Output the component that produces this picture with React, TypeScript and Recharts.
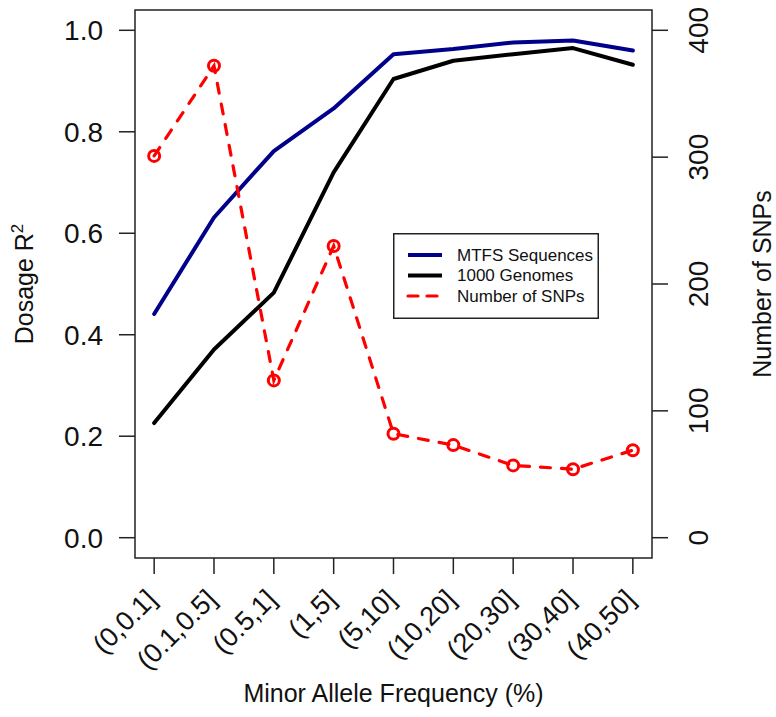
import React from 'react';
import { ComposedChart, Line, XAxis, YAxis, ReferenceArea, Legend } from 'recharts';

const categories = ['(0,0.1]', '(0.1,0.5]', '(0.5,1]', '(1,5]', '(5,10]', '(10,20]', '(20,30]', '(30,40]', '(40,50]'];
const mtfsR2 = [0.441, 0.631, 0.762, 0.846, 0.953, 0.963, 0.976, 0.98, 0.96];
const genomesR2 = [0.226, 0.371, 0.483, 0.72, 0.904, 0.94, 0.953, 0.965, 0.932];
const snpCounts = [301, 372, 124, 230, 82, 73, 57, 54, 69];
const r2Ticks = [0, 0.2, 0.4, 0.6, 0.8, 1.0];
const snpTicks = [0, 100, 200, 300, 400];
const xTicks = categories.map((_, i) => i + 1);

const seriesInfo = [
  { key: 'mtfs', name: 'MTFS Sequences', color: '#00008B', dashed: false },
  { key: 'genomes', name: '1000 Genomes', color: '#000000', dashed: false },
  { key: 'snps', name: 'Number of SNPs', color: '#FF0000', dashed: true },
];

const data = categories.map((c, i) => ({
  idx: i + 1,
  cat: c,
  mtfs: mtfsR2[i],
  genomes: genomesR2[i],
  snps: snpCounts[i],
}));

const FONT = '"Liberation Sans", Arial, Helvetica, sans-serif';
const INK = '#111';
const AXIS = '#222';

const XTick = (props: any) => {
  const { x, y, payload } = props;
  const ex = x + 4;
  const ey = y + 27;
  return (
    <text x={ex} y={ey} textAnchor="end" transform={`rotate(-45 ${ex} ${ey})`} fontSize={27} fontFamily={FONT} fill={INK}>
      {categories[payload.value - 1]}
    </text>
  );
};

const RTick = (props: any) => {
  const { x, y, payload } = props;
  return (
    <text x={x} y={y} textAnchor="middle" transform={`rotate(-90 ${x} ${y})`} fontSize={28} fontFamily={FONT} fill={INK}>
      {payload.value}
    </text>
  );
};

const LeftTitle = () => (
  <text transform="translate(33 284) rotate(-90)" textAnchor="middle" fontSize={25} fontFamily={FONT} fill={INK}>
    Dosage R<tspan dy={-10} fontSize={17}>2</tspan>
  </text>
);

const RightTitle = () => (
  <text transform="translate(771 284) rotate(-90)" textAnchor="middle" fontSize={25} fontFamily={FONT} fill={INK}>
    Number of SNPs
  </text>
);

const BottomTitle = () => (
  <text x={393.5} y={702} textAnchor="middle" fontSize={25} fontFamily={FONT} fill={INK}>
    Minor Allele Frequency (%)
  </text>
);

const LegendBox = () => (
  <svg width={206} height={86} style={{ display: 'block' }}>
    <rect x={0.75} y={0.75} width={204.5} height={84.5} fill="#fff" stroke={AXIS} strokeWidth={1.5} />
    {seriesInfo.map((s, i) => {
      const cy = 22 + i * 20.5;
      return (
        <g key={s.key}>
          <line
            x1={15}
            x2={49}
            y1={cy}
            y2={cy}
            stroke={s.color}
            strokeWidth={s.dashed ? 3.2 : 4}
            strokeDasharray={s.dashed ? '10 9' : undefined}
            strokeLinecap={s.dashed ? 'round' : 'butt'}
          />
          <text x={64} y={cy} dominantBaseline="central" fontSize={17} fontFamily={FONT} fill={INK}>
            {s.name}
          </text>
        </g>
      );
    })}
  </svg>
);

const renderDot = (props: any) => {
  const { cx, cy, index } = props;
  if (cx == null || cy == null) return <g key={`d-${index}`} />;
  return <circle key={`d-${index}`} cx={cx} cy={cy} r={5.5} fill="none" stroke="#FF0000" strokeWidth={3} />;
};

export default function App() {
  return (
    <div style={{ position: 'absolute', left: 0, top: 0, width: 776, height: 717, background: '#fff' }}>
      <ComposedChart width={776} height={717} data={data} margin={{ top: 10, right: 0, bottom: 0, left: 0 }}>
        <XAxis
          dataKey="idx"
          type="number"
          domain={[0.68, 9.32]}
          allowDataOverflow
          ticks={xTicks}
          interval={0}
          height={159}
          tickSize={16}
          tickMargin={0}
          axisLine={false}
          tickLine={{ stroke: AXIS, strokeWidth: 1.5 }}
          tick={<XTick />}
          label={{ content: BottomTitle }}
        />
        <YAxis
          yAxisId="left"
          orientation="left"
          type="number"
          domain={[-0.04, 1.04]}
          allowDataOverflow
          ticks={r2Ticks}
          interval={0}
          width={135}
          tickSize={16}
          tickMargin={16}
          axisLine={false}
          tickLine={{ stroke: AXIS, strokeWidth: 1.5 }}
          tickFormatter={(v: number) => v.toFixed(1)}
          tick={{ fontSize: 28, fill: INK, fontFamily: FONT }}
          label={{ content: LeftTitle }}
        />
        <YAxis
          yAxisId="right"
          orientation="right"
          type="number"
          domain={[-16, 416]}
          allowDataOverflow
          ticks={snpTicks}
          interval={0}
          width={124}
          tickSize={16}
          tickMargin={40}
          axisLine={false}
          tickLine={{ stroke: AXIS, strokeWidth: 1.5 }}
          tick={<RTick />}
          label={{ content: RightTitle }}
        />
        <ReferenceArea
          yAxisId="left"
          x1={0.68}
          x2={9.32}
          y1={-0.04}
          y2={1.04}
          fill="none"
          fillOpacity={0}
          stroke={AXIS}
          strokeWidth={1.5}
          ifOverflow="visible"
        />
        <Line
          yAxisId="left"
          dataKey="mtfs"
          name="MTFS Sequences"
          type="linear"
          stroke="#00008B"
          strokeWidth={4}
          strokeLinejoin="round"
          strokeLinecap="round"
          dot={false}
          activeDot={false}
          isAnimationActive={false}
        />
        <Line
          yAxisId="left"
          dataKey="genomes"
          name="1000 Genomes"
          type="linear"
          stroke="#000000"
          strokeWidth={4}
          strokeLinejoin="round"
          strokeLinecap="round"
          dot={false}
          activeDot={false}
          isAnimationActive={false}
        />
        <Line
          yAxisId="right"
          dataKey="snps"
          name="Number of SNPs"
          type="linear"
          stroke="#FF0000"
          strokeWidth={3.2}
          strokeDasharray="10 11"
          strokeLinecap="round"
          dot={renderDot}
          activeDot={false}
          isAnimationActive={false}
        />
        <Legend
          layout="vertical"
          align="center"
          verticalAlign="middle"
          wrapperStyle={{ position: 'absolute', left: 393, top: 233, width: 206, height: 86 }}
          content={() => <LegendBox />}
        />
      </ComposedChart>
    </div>
  );
}
